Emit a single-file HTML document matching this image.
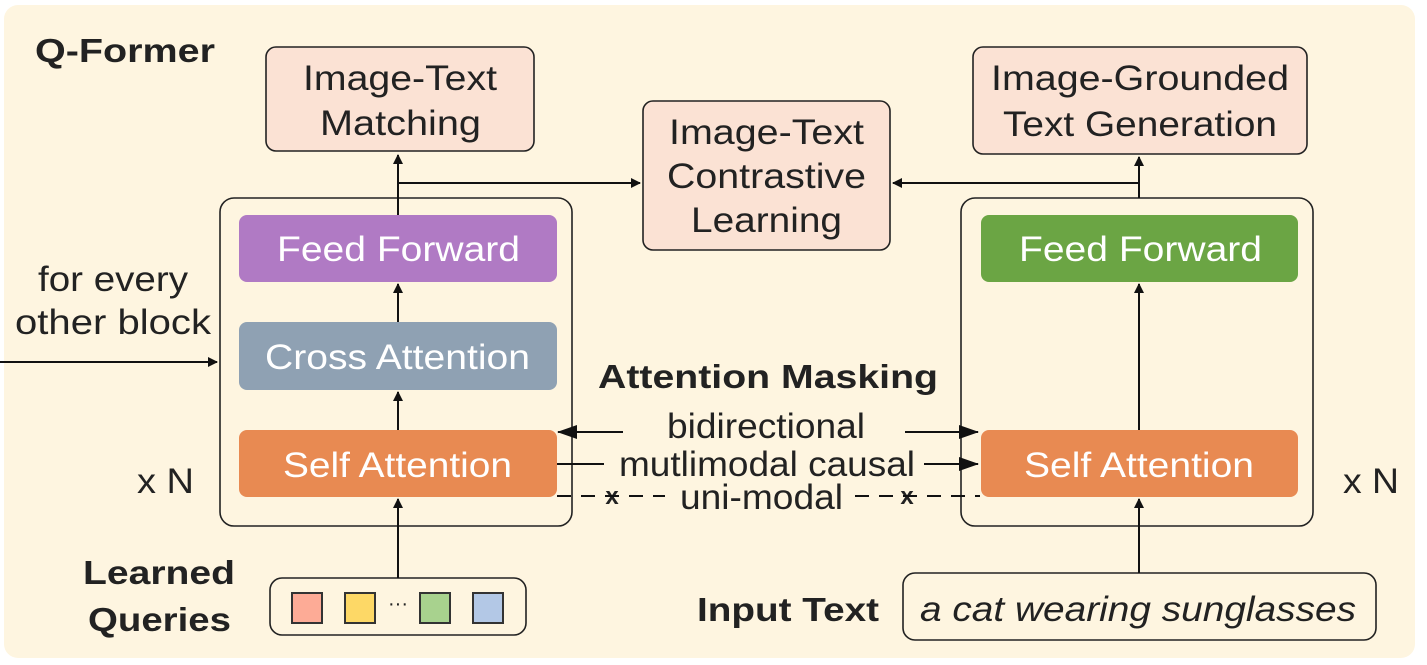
<!DOCTYPE html>
<html><head><meta charset="utf-8"><style>body{margin:0;background:#fff}svg{display:block}text{font-family:"Liberation Sans",sans-serif;fill:#222}</style></head><body>
<svg width="1427" height="665" viewBox="0 0 1427 665" xmlns="http://www.w3.org/2000/svg">
<defs><marker id="a" markerWidth="10" markerHeight="10" refX="9" refY="5" orient="auto" markerUnits="userSpaceOnUse"><path d="M0,0 L10,5 L0,10 z" fill="#111"/></marker>
<marker id="b" markerWidth="20" markerHeight="14" refX="19" refY="7" orient="auto" markerUnits="userSpaceOnUse"><path d="M0,0 L20,7 L0,14 z" fill="#111"/></marker></defs>
<rect x="4" y="5" width="1411" height="653" rx="14" fill="#fef5e0"/>
<g stroke="#222" stroke-width="1.6">
<rect x="266" y="47" width="268" height="104" rx="10" fill="#fbe2d4"/>
<rect x="643" y="101" width="247" height="149" rx="10" fill="#fbe2d4"/>
<rect x="973" y="47" width="334" height="107" rx="10" fill="#fbe2d4"/>
<rect x="220" y="198" width="352" height="328" rx="14" fill="none"/>
<rect x="961" y="198" width="352" height="328" rx="14" fill="none"/>
<rect x="270" y="578" width="256" height="57" rx="12" fill="none"/>
<rect x="903" y="573" width="473" height="67" rx="12" fill="none"/>
</g>
<g stroke="none">
<rect x="239" y="215" width="318" height="67" rx="8" fill="#b07ac4"/>
<rect x="239" y="322" width="318" height="68" rx="8" fill="#8fa1b3"/>
<rect x="239" y="430" width="318" height="67" rx="8" fill="#e88a52"/>
<rect x="981" y="215" width="317" height="67" rx="8" fill="#6ba544"/>
<rect x="981" y="430" width="317" height="67" rx="8" fill="#e88a52"/>
</g>
<g stroke="#333" stroke-width="2">
<rect x="292" y="593" width="30" height="30" fill="#fdab96"/>
<rect x="345" y="593" width="30" height="30" fill="#fdd866"/>
<rect x="420" y="593" width="30" height="30" fill="#a8d28e"/>
<rect x="473" y="593" width="30" height="30" fill="#b3c8e6"/>
</g>
<text x="398" y="610" font-size="20" text-anchor="middle">···</text>
<g font-size="35" lengthAdjust="spacingAndGlyphs">
<text x="303" y="90" textLength="194" lengthAdjust="spacingAndGlyphs">Image-Text</text>
<text x="320" y="135" textLength="161" lengthAdjust="spacingAndGlyphs">Matching</text>
<text x="669" y="144" textLength="195" lengthAdjust="spacingAndGlyphs">Image-Text</text>
<text x="667" y="188" textLength="199" lengthAdjust="spacingAndGlyphs">Contrastive</text>
<text x="691" y="232" textLength="151" lengthAdjust="spacingAndGlyphs">Learning</text>
<text x="991" y="90" textLength="298" lengthAdjust="spacingAndGlyphs">Image-Grounded</text>
<text x="1003" y="136" textLength="274" lengthAdjust="spacingAndGlyphs">Text Generation</text>
<text x="277" y="261" textLength="243" lengthAdjust="spacingAndGlyphs" style="fill:#fff">Feed Forward</text>
<text x="265" y="369" textLength="265" lengthAdjust="spacingAndGlyphs" style="fill:#fff">Cross Attention</text>
<text x="283" y="477" textLength="229" lengthAdjust="spacingAndGlyphs" style="fill:#fff">Self Attention</text>
<text x="1019" y="261" textLength="243" lengthAdjust="spacingAndGlyphs" style="fill:#fff">Feed Forward</text>
<text x="1024" y="477" textLength="230" lengthAdjust="spacingAndGlyphs" style="fill:#fff">Self Attention</text>
<text x="38" y="291" textLength="150" lengthAdjust="spacingAndGlyphs">for every</text>
<text x="15" y="334" textLength="196" lengthAdjust="spacingAndGlyphs">other block</text>
<text x="137" y="493" textLength="57" lengthAdjust="spacingAndGlyphs">x N</text>
<text x="1343" y="493" textLength="56" lengthAdjust="spacingAndGlyphs">x N</text>
<text x="667" y="438" textLength="198" lengthAdjust="spacingAndGlyphs">bidirectional</text>
<text x="619" y="476" textLength="296" lengthAdjust="spacingAndGlyphs">mutlimodal causal</text>
<text x="680" y="509" textLength="163" lengthAdjust="spacingAndGlyphs">uni-modal</text>
<text x="920" y="621" textLength="436" lengthAdjust="spacingAndGlyphs" font-style="italic">a cat wearing sunglasses</text>
</g>
<g font-weight="bold" font-size="33">
<text x="35" y="62" textLength="180" lengthAdjust="spacingAndGlyphs">Q-Former</text>
<text x="598" y="388" textLength="340" lengthAdjust="spacingAndGlyphs">Attention Masking</text>
<text x="83" y="584" textLength="152" lengthAdjust="spacingAndGlyphs">Learned</text>
<text x="88" y="631" textLength="143" lengthAdjust="spacingAndGlyphs">Queries</text>
<text x="697" y="621" textLength="182" lengthAdjust="spacingAndGlyphs">Input Text</text>
</g>
<g font-weight="bold" text-anchor="middle" font-size="24">
<text x="612" y="504">x</text><text x="907" y="504">x</text>
</g>
<g stroke="#111" stroke-width="2" fill="none">
<line x1="398" y1="578" x2="398" y2="499" marker-end="url(#a)"/>
<line x1="398" y1="430" x2="398" y2="392" marker-end="url(#a)"/>
<line x1="398" y1="322" x2="398" y2="284" marker-end="url(#a)"/>
<line x1="398" y1="215" x2="398" y2="155" marker-end="url(#a)"/>
<line x1="398" y1="183" x2="640" y2="183" marker-end="url(#a)"/>
<line x1="1139" y1="573" x2="1139" y2="499" marker-end="url(#a)"/>
<line x1="1139" y1="430" x2="1139" y2="284" marker-end="url(#a)"/>
<line x1="1139" y1="198" x2="1139" y2="157" marker-end="url(#a)"/>
<line x1="1139" y1="183" x2="893" y2="183" marker-end="url(#a)"/>
<line x1="0" y1="362" x2="217" y2="362" marker-end="url(#a)"/>
<line x1="623" y1="432" x2="558" y2="432" marker-end="url(#b)"/>
<line x1="905" y1="432" x2="978" y2="432" marker-end="url(#b)"/>
<line x1="557" y1="464" x2="604" y2="464"/>
<line x1="924" y1="464" x2="978" y2="464" marker-end="url(#b)"/>
<line x1="557" y1="496" x2="665" y2="496" stroke-dasharray="14,10"/>
<line x1="855" y1="496" x2="980" y2="496" stroke-dasharray="14,10"/>
</g>
</svg>
</body></html>
